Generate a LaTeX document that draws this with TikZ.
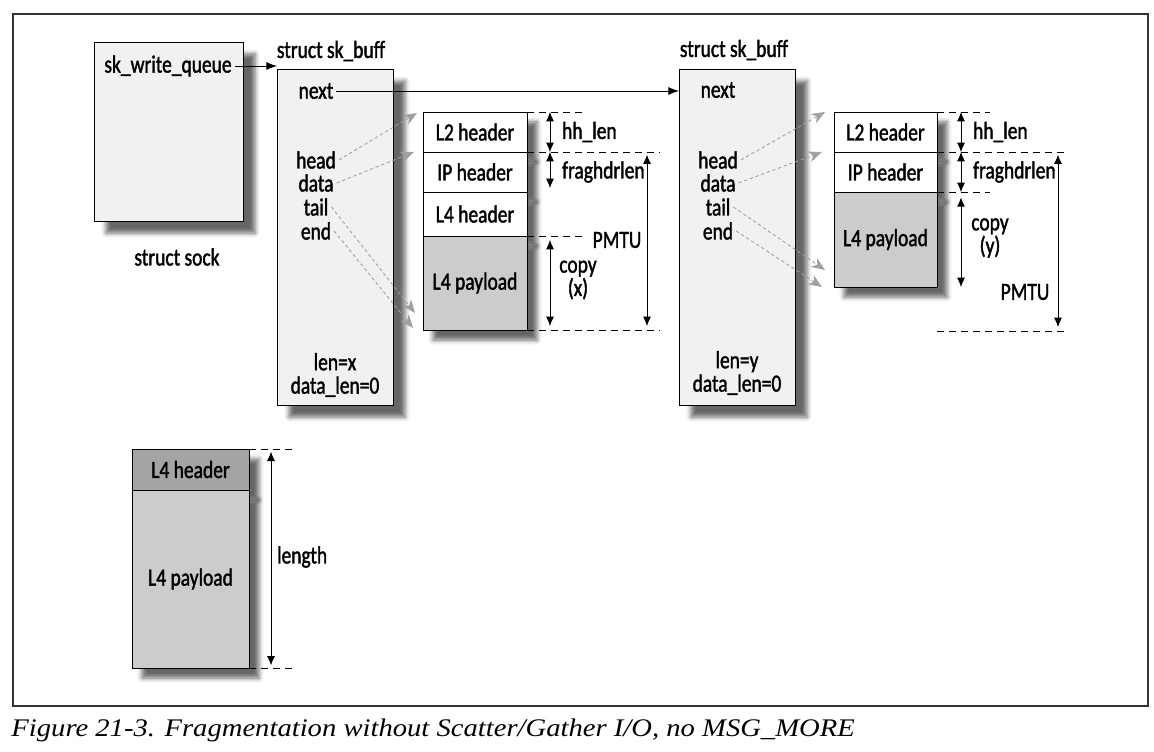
\documentclass[tikz,border=0pt]{standalone}
\usepackage{fontspec}
\setmainfont{Carlito}[FakeStretch=0.79,FakeBold=1.5]
\newfontfamily\captionfont{Liberation Serif}[FakeStretch=1.13]
\usetikzlibrary{positioning,calc,arrows.meta,shadows.blur}
\definecolor{boxgray}{HTML}{F1F1F1}
\definecolor{paygray}{HTML}{CCCCCC}
\definecolor{hdrgray}{HTML}{A4A4A4}
\definecolor{ptrgray}{HTML}{A0A0A0}
\begin{document}
\begin{tikzpicture}[x=0.75pt,y=-0.75pt,line width=0.65pt,
    font=\fontsize{18.5}{21}\selectfont,
    every node/.style={inner sep=2pt},
    boxshadow/.style={blur shadow={shadow xshift=#1,shadow yshift=-#1,
        shadow blur radius=3.5pt,shadow opacity=60}},
    strct/.style={rectangle,draw,fill=boxgray,outer sep=0pt,boxshadow=9pt},
    seg/.style={rectangle,draw,fill=white,outer sep=0pt,inner sep=0pt,boxshadow=7.5pt},
    guide/.style={dash pattern=on 5pt off 4pt},
    dim/.style={{Latex[length=7pt,width=6pt]}-{Latex[length=7pt,width=6pt]}},
    ptr/.style={draw=ptrgray,dash pattern=on 2.5pt off 2pt,-{Stealth[length=10pt,width=8pt,inset=3pt]}},
    link/.style={-{Latex[length=8pt,width=6pt]}}]

    \useasboundingbox (0,0) rectangle (1154,752);
    \draw[line width=0.8pt,draw=black!80] (13,14) rectangle (1148,706);

    % struct sock
    \node[strct,minimum width=111.75pt,minimum height=134.25pt]
        (sock) at (168.5,131.5) {};
    \node
        (queue) at (168,66) {sk\_write\_queue};
    \node
        (socklabel) at (177,257) {struct sock};

    % first sk_buff
    \node[strct,minimum width=87pt,minimum height=252pt]
        (skb1) at (335,237) {};
    \node
        (skb1label) at (331,51) {struct sk\_buff};
    \node
        (next1) at (316,91) {next};
    \node
        (head1) at (316,160) {head};
    \node
        (data1) at (316,183) {data};
    \node
        (tail1) at (316,207) {tail};
    \node
        (end1) at (316,231) {end};
    \node[align=center,font=\fontsize{18.5}{17.5}\selectfont]
        (len1) at (335,375) {len=x\\data\_len=0};

    % second sk_buff
    \node[strct,minimum width=87pt,minimum height=252pt]
        (skb2) at (737,237) {};
    \node
        (skb2label) at (734,50) {struct sk\_buff};
    \node
        (next2) at (718,90) {next};
    \node
        (head2) at (718,160) {head};
    \node
        (data2) at (718,183) {data};
    \node
        (tail2) at (718,207) {tail};
    \node
        (end2) at (718,231) {end};
    \node[align=center,font=\fontsize{18.5}{17.5}\selectfont]
        (len2) at (737,373) {len=y\\data\_len=0};

    % first fragment
    \node[seg,minimum width=78pt,minimum height=30pt,anchor=north]
        (l2a) at (475,112) {L2 header};
    \node[seg,minimum width=78pt,minimum height=30pt,below=0pt of l2a]
        (ipa) {IP header};
    \node[seg,minimum width=78pt,minimum height=33pt,below=0pt of ipa]
        (l4a) {L4 header};
    \node[seg,fill=paygray,minimum width=78pt,minimum height=70.5pt,below=0pt of l4a]
        (paya) {L4 payload};

    % second fragment
    \node[seg,minimum width=77.25pt,minimum height=30pt,anchor=north]
        (l2b) at (885.5,112) {L2 header};
    \node[seg,minimum width=77.25pt,minimum height=30pt,below=0pt of l2b]
        (ipb) {IP header};
    \node[seg,fill=paygray,minimum width=77.25pt,minimum height=71.25pt,below=0pt of ipb]
        (payb) {L4 payload};

    % data from the user
    \node[seg,fill=hdrgray,minimum width=87.75pt,minimum height=30.75pt,anchor=north]
        (l4c) at (190.5,449) {L4 header};
    \node[seg,fill=paygray,minimum width=87.75pt,minimum height=133.5pt,below=0pt of l4c]
        (payc) {L4 payload};

    % sizes
    \node[anchor=west]
        (hhlen1) at (559,132) {hh\_len};
    \node[anchor=west]
        (frag1) at (559,172) {fraghdrlen};
    \node[align=center,font=\fontsize{18.5}{17.5}\selectfont]
        (copy1) at (578,280) {copy\\(x)};
    \node
        (pmtu1) at (617,240) {PMTU};
    \node[anchor=west]
        (hhlen2) at (970,132) {hh\_len};
    \node[anchor=west]
        (frag2) at (970,172) {fraghdrlen};
    \node[align=center,font=\fontsize{18.5}{17.5}\selectfont]
        (copy2) at (990,238) {copy\\(y)};
    \node
        (pmtu2) at (1025,292) {PMTU};
    \node[anchor=west]
        (length) at (274,557) {length};

    \coordinate (headptr1) at (417,113);
    \coordinate (dataptr1) at (414,152);
    \coordinate (tailptr1) at (415,313);
    \coordinate (endptr1) at (413,328);
    \coordinate (headptr2) at (825,112);
    \coordinate (dataptr2) at (822,152);
    \coordinate (tailptr2) at (825,270);
    \coordinate (endptr2) at (822,287);

    \begin{scope}[guide]
        \draw (l2a.north east) -- ++(56,0);
        \draw (ipa.north east) -- ++(133,0);
        \draw (paya.north east) -- ++(56,0);
        \draw (paya.south east) -- ++(133,0);
        \draw (l2b.north east) -- ++(53,0);
        \draw (ipb.north east) -- ++(128,0);
        \draw (payb.north east) -- ++(53,0);
        \draw ($(payb.south east)+(0,44)$) -- ++(128,0);
        \draw (l4c.north east) -- ++(44,0);
        \draw (payc.south east) -- ++(44,0);
    \end{scope}

    \begin{scope}[dim]
        \draw ($(l2a.north east)+(23,0)$) -- ($(l2a.south east)+(23,0)$);
        \draw[shorten >=3pt] ($(ipa.north east)+(23,0)$) -- ($(ipa.south east)+(23,0)$);
        \draw[shorten <=3pt,shorten >=3pt] ($(paya.north east)+(23,0)$) -- ($(paya.south east)+(23,0)$);
        \draw[shorten <=2pt,shorten >=3pt] ($(ipa.north east)+(120,0)$) -- ($(paya.south east)+(120,0)$);
        \draw ($(l2b.north east)+(24,0)$) -- ($(l2b.south east)+(24,0)$);
        \draw ($(ipb.north east)+(24,0)$) -- ($(ipb.south east)+(24,0)$);
        \draw[shorten <=4pt] ($(payb.north east)+(24,0)$) -- ($(payb.south east)+(24,0)$);
        \draw[shorten <=2pt,shorten >=3pt] ($(ipb.north east)+(121,0)$) -- ($(payb.south east)+(121,44)$);
        \draw[shorten <=2pt,shorten >=2pt] ($(l4c.north east)+(22,0)$) -- ($(payc.south east)+(22,0)$);
    \end{scope}

    \path[link] (queue.east) edge (queue.east -| skb1.west);
    \path[link] (next1.east) edge (next1.east -| skb2.west);

    \begin{scope}[ptr]
        \draw (head1.east) -- (headptr1);
        \draw (data1.east) -- (dataptr1);
        \draw (tail1.east) -- (tailptr1);
        \draw (end1.east) -- (endptr1);
        \draw (head2.east) -- (headptr2);
        \draw (data2.east) -- (dataptr2);
        \draw (tail2.east) -- (tailptr2);
        \draw (end2.east) -- (endptr2);
    \end{scope}

    \node[anchor=base west,inner sep=0pt,font=\captionfont\itshape\fontsize{19}{23}\selectfont]
        (caption) at (11,736) {Figure 21-3. Fragmentation without Scatter/Gather I/O, no MSG\_MORE};
\end{tikzpicture}
\end{document}
